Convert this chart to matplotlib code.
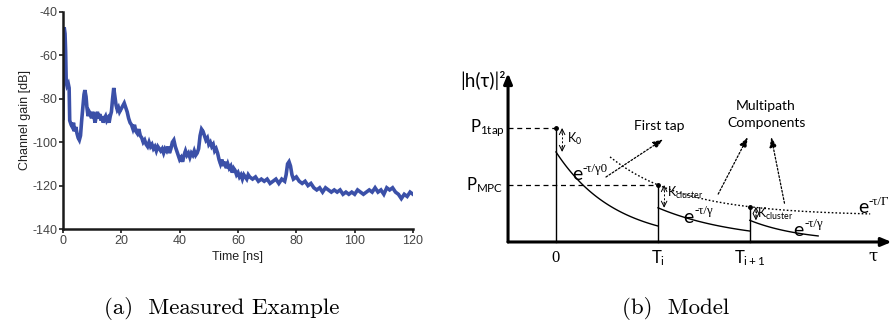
import numpy as np
import matplotlib
matplotlib.use('Agg')
import matplotlib.pyplot as plt

plt.rcParams['mathtext.fontset'] = 'custom'
plt.rcParams['mathtext.rm'] = 'Lato'
plt.rcParams['mathtext.it'] = 'Lato:italic'
plt.rcParams['mathtext.sf'] = 'Lato'

# (a) measured channel gain trace
time_ns = [0, 0.2, 0.4, 0.7, 0.9, 1.1, 1.4, 1.8, 2.1, 2.3, 2.8, 3.2, 3.6, 4.0, 4.4, 4.8,
           5.2, 5.6, 6.0, 6.4, 6.8, 7.2, 7.5, 7.9, 8.2, 8.6, 9.0, 9.4, 9.8, 10.2, 10.6,
           11.0, 11.4, 11.8, 12.2, 12.6, 13.0, 13.4, 13.8, 14.2, 14.6, 15.0, 15.4, 15.8,
           16.2, 16.6, 17.0, 17.4, 17.8, 18.2, 18.6, 19.0, 19.4, 19.8, 20.2, 20.6, 21.0,
           21.5, 22.0, 22.5, 23.0, 23.5, 24.0, 24.5, 25.0, 25.5, 26.0, 26.5, 27.0, 27.5,
           28.0, 28.5, 29.0, 29.5, 30.0, 30.5, 31.0, 31.5, 32.0, 32.5, 33.0, 33.5, 34.0,
           34.5, 35.0, 35.5, 36.0, 36.5, 37.0, 37.5, 38.0, 38.5, 39.0, 39.5, 40.0, 40.5,
           41.0, 41.5, 42.0, 42.5, 43.0, 43.5, 44.0, 44.5, 45.0, 45.5, 46.0, 46.5, 47.0,
           47.5, 48.0, 48.5, 49.0, 49.5, 50.0, 50.5, 51.0, 51.5, 52.0, 52.5, 53.0, 53.5,
           54.0, 54.5, 55.0, 55.5, 56.0, 56.5, 57.0, 57.5, 58.0, 58.5, 59.0, 59.5, 60.0,
           60.5, 61.0, 61.5, 62.0, 62.5, 63.0, 63.5, 64.0, 65.0, 66.0, 67.0, 68.0, 69.0,
           70.0, 71.0, 72.0, 73.0, 74.0, 75.0, 76.0, 76.5, 77.0, 77.5, 78.0, 78.5, 79.0,
           80.0, 81.0, 82.0, 83.0, 84.0, 85.0, 86.0, 87.0, 88.0, 89.0, 90.0, 91.0, 92.0,
           93.0, 94.0, 95.0, 96.0, 97.0, 98.0, 99.0, 100.0, 101.0, 102.0, 103.0, 104.0,
           105.0, 106.0, 107.0, 108.0, 109.0, 110.0, 111.0, 112.0, 113.0, 114.0, 115.0,
           116.0, 117.0, 118.0, 119.0, 120.0]
gain_db = [-89, -60, -47, -50, -58, -72, -74, -73, -75, -90, -92, -93, -91, -95, -93, -96,
           -98, -99, -97, -90, -84, -78, -76, -79, -84, -88, -86, -87, -89, -86, -88,
           -91, -88, -86, -89, -87, -90, -88, -91, -89, -88, -90, -89, -91,
           -88, -86, -80, -75, -79, -83, -85, -84, -86, -85, -84, -83, -82,
           -84, -86, -89, -91, -92, -94, -92, -95, -96, -94, -97, -98, -100,
           -99, -101, -102, -100, -102, -101, -103, -102, -104, -102, -103, -104, -103,
           -105, -103, -104, -102, -105, -103, -100, -99, -102, -104, -106, -108, -107,
           -109, -106, -104, -106, -105, -107, -105, -106, -104, -106, -105, -103, -97,
           -94, -95, -97, -99, -98, -101, -100, -102, -101, -104, -103, -105, -108,
           -110, -108, -111, -109, -112, -110, -112, -111, -114, -112, -113, -115, -114,
           -116, -115, -117, -115, -116, -117, -115, -116, -117, -116, -118, -117, -118,
           -117, -119, -118, -117, -119, -117, -118, -115, -110, -109, -111, -115, -117,
           -116, -118, -119, -118, -120, -119, -121, -122, -121, -123, -121, -122, -123,
           -122, -123, -122, -124, -123, -124, -123, -124, -122, -123, -124, -123,
           -122, -123, -121, -123, -122, -124, -121, -122, -121, -123, -124,
           -126, -124, -125, -123, -124]
x_ticks = [0, 20, 40, 60, 80, 100, 120]
y_ticks = [-40, -60, -80, -100, -120, -140]

# (b) model parameters (schematic units: tau in cluster spacings, power normalised)
tau_marks = [0.0, 1.0, 1.9]
tau_labels = ['0', r'$\mathrm{T_i}$', r'$\mathrm{T_{i+1}}$']
p_first_tap = 1.0
p_mpc = 0.5
cluster_start = [0.79, 0.30, 0.19]   # power right after each K drop
cluster_end = [0.14, 0.096, 0.053]   # power at end of each cluster
cluster_len = [1.0, 0.9, 0.67]
env_c, env_a, env_g = 0.231, 1.07, 0.725   # e^{-tau/Gamma} envelope
env_range = (0.53, 3.08)

fig = plt.figure(figsize=(8.92, 3.25), dpi=100)

# ---------------- (a) Measured Example ----------------
ax = fig.add_axes([63/892, 1-229/325, 350/892, 217/325])
ax.plot(time_ns, gain_db, color='#3b50a8', lw=2.6, solid_joinstyle='miter')
ax.set_xlim(0, 120)
ax.set_ylim(-140, -40)
ax.set_xticks(x_ticks)
ax.set_yticks(y_ticks)
ax.set_yticklabels([str(v) for v in y_ticks])
for s in ['top', 'right']:
    ax.spines[s].set_visible(False)
for s in ['left', 'bottom']:
    ax.spines[s].set_linewidth(1.8)
    ax.spines[s].set_color('#1a1a1a')
ax.tick_params(direction='out', length=3, width=1.2, colors='#1a1a1a',
               labelsize=9, labelcolor='#444444', pad=1)
for lab in ax.get_xticklabels() + ax.get_yticklabels():
    lab.set_fontfamily('Liberation Sans')
ax.set_xlabel('Time [ns]', fontsize=9, family='Liberation Sans', color='#222222', labelpad=3)
ax.set_ylabel('Channel gain [dB]', fontsize=9, family='Liberation Sans', color='#222222', labelpad=1)

fig.text(222/892, 1-309/325, '(a)  Measured Example', ha='center', va='center',
         fontsize=16.5, family='cmr10')

# ---------------- (b) Model ----------------
bx = fig.add_axes([440/892, 1-300/325, 452/892, 260/325])
bx.set_xlim(-1.137, 3.294)
bx.set_ylim(-0.509, 1.772)
bx.axis('off')

x0 = -0.47
# axes with arrows
bx.annotate('', xy=(3.29, 0), xytext=(x0, 0),
            arrowprops=dict(arrowstyle='-|>,head_width=0.25,head_length=0.6', color='black',
                            lw=2.2, shrinkA=0, shrinkB=0))
bx.annotate('', xy=(x0, 1.48), xytext=(x0, 0),
            arrowprops=dict(arrowstyle='-|>,head_width=0.25,head_length=0.6', color='black',
                            lw=2.2, shrinkA=0, shrinkB=0))


def envelope(t):
    return env_c + env_a * np.exp(-np.asarray(t) / env_g)


def exp_label(x, y, sup, size=14):
    """'e' in sans with a small serif superscript"""
    bx.text(x, y, 'e', fontsize=size, family='Lato', ha='left', va='baseline')
    bx.annotate(sup, xy=(x, y), xytext=(size * 0.55, size * 0.45), textcoords='offset points',
                fontsize=size * 0.66, family=['Liberation Serif', 'DejaVu Serif'],
                ha='left', va='baseline')


tops = [p_first_tap, p_mpc, float(envelope(tau_marks[2]))]

# dashed reference levels
bx.plot([x0, tau_marks[0]], [p_first_tap, p_first_tap], ls=(0, (4, 3)), color='black', lw=0.9)
bx.plot([x0, tau_marks[1]], [p_mpc, p_mpc], ls=(0, (4, 3)), color='black', lw=0.9)

# clusters
for t0, top, s, e, L in zip(tau_marks, tops, cluster_start, cluster_end, cluster_len):
    bx.plot([t0, t0], [0, top], color='black', lw=1.0)
    bx.plot([t0], [top], 'o', color='black', ms=2.5)
    g = L / np.log(s / e)
    tt = np.linspace(t0, t0 + L, 80)
    bx.plot(tt, s * np.exp(-(tt - t0) / g), color='black', lw=1.0)
    # K drop marker
    xk = t0 + 0.06
    bx.plot([xk, xk], [top - 0.04, s + 0.04], ls=(0, (2, 2)), color='black', lw=0.7)
    bx.annotate('', xy=(xk, top), xytext=(xk, top - 0.05),
                arrowprops=dict(arrowstyle='->', lw=0.7, color='black', shrinkA=0, shrinkB=0))
    bx.annotate('', xy=(xk, s), xytext=(xk, s + 0.05),
                arrowprops=dict(arrowstyle='->', lw=0.7, color='black', shrinkA=0, shrinkB=0))

# envelope e^{-tau/Gamma}
te = np.linspace(env_range[0], env_range[1], 200)
bx.plot(te, envelope(te), ls=(0, (1.2, 1.5)), color='black', lw=1.0)

# dotted pointer arrows
for (xa, ya), (xb, yb) in [((0.49, 0.57), (1.05, 0.90)),
                           ((1.59, 0.42), (1.88, 0.92)),
                           ((2.24, 0.34), (2.11, 0.92))]:
    bx.annotate('', xy=(xb, yb), xytext=(xa, ya),
                arrowprops=dict(arrowstyle='-|>,head_width=0.22,head_length=0.6', lw=0.9,
                                ls=(0, (1.5, 1.5)), color='black', shrinkA=0, shrinkB=0))

fam = ['Lato', 'DejaVu Sans']
bx.text(-0.49, 1.42, '|h(τ)|²', ha='right', va='center', fontsize=13.5, family=fam)
bx.text(-0.50, p_first_tap, r'$\mathrm{P_{1tap}}$', ha='right', va='center', fontsize=12)
bx.text(-0.52, p_mpc, r'$\mathrm{P_{MPC}}$', ha='right', va='center', fontsize=12)
bx.text(0.11, 0.90, r'$\mathrm{K_0}$', ha='left', va='center', fontsize=9)
bx.text(1.09, 0.43, r'$\mathrm{K_{cluster}}$', ha='left', va='center', fontsize=9)
bx.text(1.97, 0.25, r'$\mathrm{K_{cluster}}$', ha='left', va='center', fontsize=9)
exp_label(0.16, 0.54, '-τ/γ0')
exp_label(1.25, 0.17, '-τ/γ')
exp_label(2.33, 0.053, '-τ/γ')
exp_label(2.96, 0.25, '-τ/Γ')
bx.text(1.01, 1.02, 'First tap', ha='center', va='center', fontsize=10, family=fam)
bx.text(2.06, 1.19, 'Multipath', ha='center', va='center', fontsize=10, family=fam)
bx.text(2.06, 1.04, 'Components', ha='center', va='center', fontsize=10, family=fam)

for t, lab in zip(tau_marks, tau_labels):
    if lab == '0':
        bx.text(t, -0.14, lab, ha='center', va='center', fontsize=12, family='Liberation Serif')
    else:
        bx.text(t, -0.14, lab, ha='center', va='center', fontsize=12)
bx.text(3.11, -0.12, 'τ', ha='center', va='center', fontsize=12, family='DejaVu Serif')

fig.text(676/892, 1-309/325, '(b)  Model', ha='center', va='center',
         fontsize=16.5, family='cmr10')

fig.savefig('out.png', dpi=100, facecolor='white')
